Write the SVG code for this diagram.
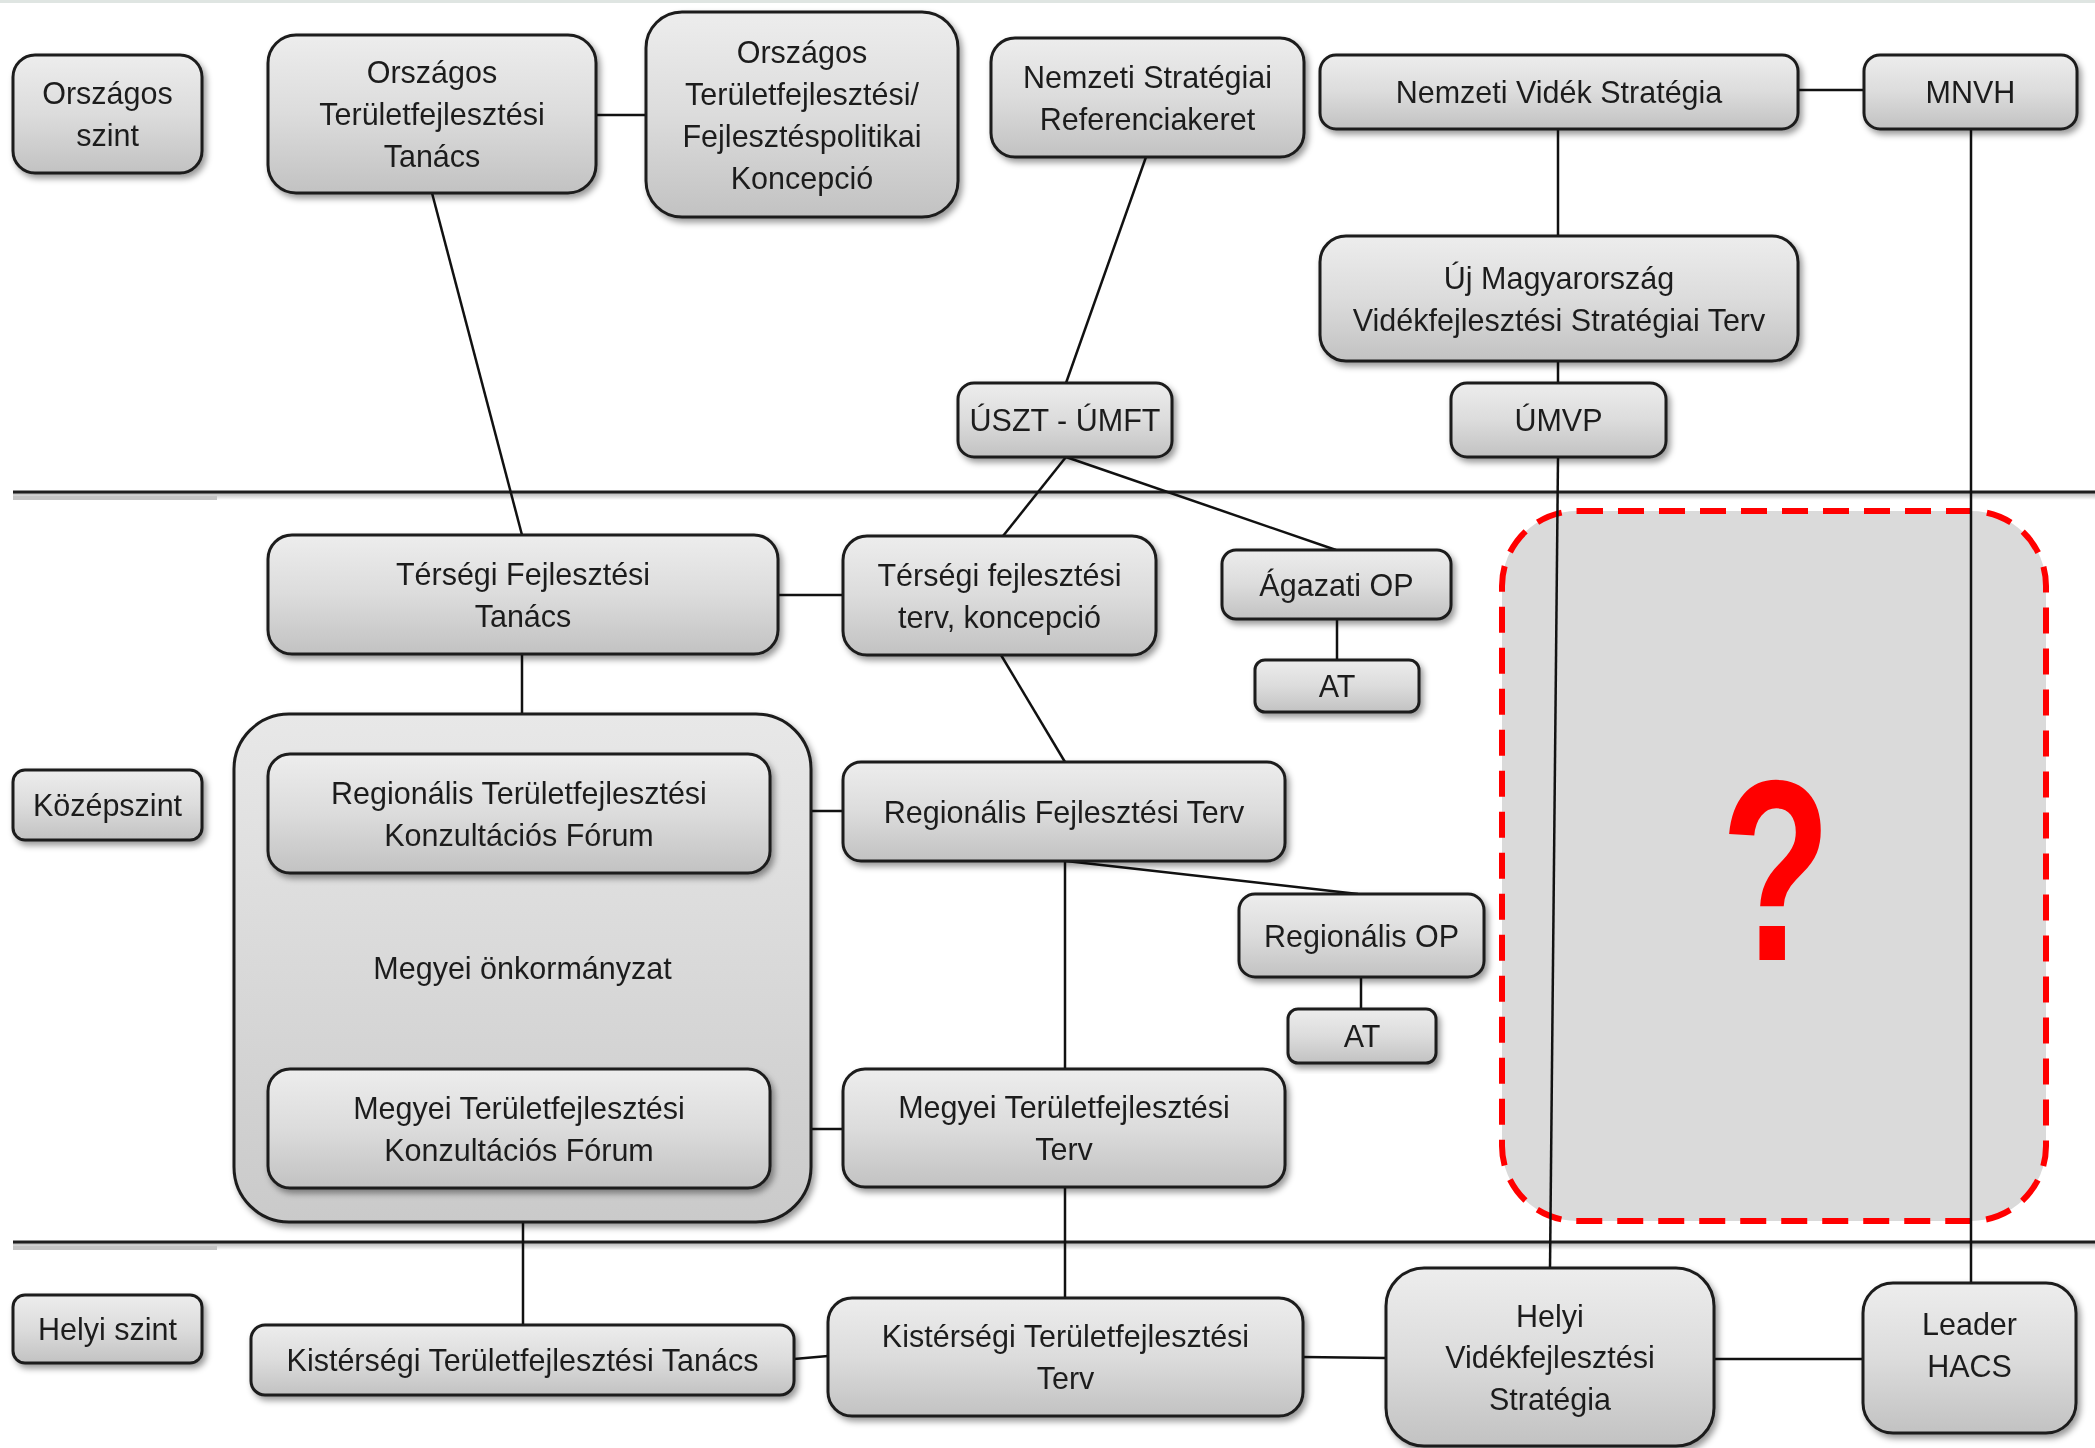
<svg xmlns="http://www.w3.org/2000/svg" width="2095" height="1448" viewBox="0 0 2095 1448">
<defs>
<linearGradient id="g" x1="0" y1="0" x2="0" y2="1">
<stop offset="0" stop-color="#ededed"/>
<stop offset="0.5" stop-color="#dcdcdc"/>
<stop offset="1" stop-color="#c2c2c2"/>
</linearGradient>
<linearGradient id="gc" x1="0" y1="0" x2="0" y2="1">
<stop offset="0" stop-color="#e8e8e8"/>
<stop offset="1" stop-color="#cacaca"/>
</linearGradient>
<linearGradient id="ls" x1="0" y1="0" x2="0" y2="1">
<stop offset="0" stop-color="#000" stop-opacity="0.28"/>
<stop offset="1" stop-color="#000" stop-opacity="0"/>
</linearGradient>
<filter id="sh" x="-10%" y="-10%" width="125%" height="130%">
<feDropShadow dx="3" dy="4" stdDeviation="3" flood-color="#000" flood-opacity="0.4"/>
</filter>
</defs>
<style>
.n rect{fill:url(#g);stroke:#1c1c1c;stroke-width:3;}
.n{filter:url(#sh);}
.t{font-family:"Liberation Sans",Arial,sans-serif;font-size:30.5px;fill:#1e1e1e;text-anchor:middle;}
.c line{stroke:#111;stroke-width:2.5;}
.sep{fill:#1e1e1e;}
.sepsh{fill:url(#ls);}
</style>
<rect x="0" y="0" width="2095" height="1448" fill="#ffffff"/>
<rect x="0" y="0" width="2095" height="3" fill="#dfe5e2"/>

<g id="separators">
<rect class="sepsh" x="13" y="493" width="2082" height="7"/>
<rect class="sepsh" x="13" y="1243" width="2082" height="7"/>
<rect x="13" y="496" width="204" height="4" fill="#c4c4c4"/>
<rect x="13" y="1246" width="204" height="4" fill="#c4c4c4"/>
<rect class="sep" x="13" y="490.5" width="2082" height="3"/>
<rect class="sep" x="13" y="1240.5" width="2082" height="3"/>
</g>

<g id="unknown">
<rect x="1502" y="511" width="544" height="710" rx="75" fill="#dadada" stroke="#ff0000" stroke-width="6" stroke-dasharray="26 15"/>
<text transform="translate(1776,960) scale(0.7,1)" x="0" y="0" font-family="Liberation Sans,Arial,sans-serif" font-weight="bold" font-size="258" fill="#ff0000" text-anchor="middle">?</text>
</g>

<g id="connectors" class="c">
<line x1="596" y1="115" x2="646" y2="115"/>
<line x1="432" y1="193" x2="522" y2="535"/>
<line x1="1146" y1="157" x2="1066" y2="383"/>
<line x1="1798" y1="90" x2="1864" y2="90"/>
<line x1="1558" y1="129" x2="1558" y2="236"/>
<line x1="1558" y1="361" x2="1558" y2="383"/>
<line x1="1558" y1="457" x2="1550" y2="1268"/>
<line x1="1971" y1="129" x2="1971" y2="1283"/>
<line x1="1066" y1="457" x2="1003" y2="536"/>
<line x1="1066" y1="457" x2="1336" y2="550"/>
<line x1="1337" y1="619" x2="1337" y2="660"/>
<line x1="778" y1="595" x2="843" y2="595"/>
<line x1="522" y1="654" x2="522" y2="714"/>
<line x1="1001" y1="655" x2="1065" y2="762"/>
<line x1="770" y1="811" x2="843" y2="811"/>
<line x1="1066" y1="861" x2="1358" y2="894"/>
<line x1="1361" y1="977" x2="1361" y2="1009"/>
<line x1="1065" y1="861" x2="1065" y2="1069"/>
<line x1="770" y1="1129" x2="843" y2="1129"/>
<line x1="523" y1="1222" x2="523" y2="1325"/>
<line x1="1065" y1="1187" x2="1065" y2="1298"/>
<line x1="794" y1="1359" x2="828" y2="1356"/>
<line x1="1303" y1="1357" x2="1386" y2="1358"/>
<line x1="1714" y1="1359" x2="1863" y2="1359"/>
</g>

<g id="orszagos-szint" class="n"><rect x="13" y="55" width="189" height="118" rx="22"/>
<text class="t" x="107.5" y="104">Országos</text><text class="t" x="107.5" y="146">szint</text></g>

<g id="ott" class="n"><rect x="268" y="35" width="328" height="158" rx="28"/>
<text class="t" x="432" y="83">Országos</text><text class="t" x="432" y="125">Területfejlesztési</text><text class="t" x="432" y="167">Tanács</text></g>

<g id="koncepcio" class="n"><rect x="646" y="12" width="312" height="205" rx="36"/>
<text class="t" x="802" y="62.5">Országos</text><text class="t" x="802" y="104.5">Területfejlesztési/</text><text class="t" x="802" y="146.5">Fejlesztéspolitikai</text><text class="t" x="802" y="188.5">Koncepció</text></g>

<g id="nsrk" class="n"><rect x="991" y="38" width="313" height="119" rx="24"/>
<text class="t" x="1147.5" y="87.5">Nemzeti Stratégiai</text><text class="t" x="1147.5" y="129.5">Referenciakeret</text></g>

<g id="uszt-umft" class="n"><rect x="958" y="383" width="214" height="74" rx="16"/>
<text class="t" x="1065" y="431">ÚSZT - ÚMFT</text></g>

<g id="nvs" class="n"><rect x="1320" y="55" width="478" height="74" rx="16"/>
<text class="t" x="1559" y="103">Nemzeti Vidék Stratégia</text></g>

<g id="mnvh" class="n"><rect x="1864" y="55" width="213" height="74" rx="16"/>
<text class="t" x="1970.5" y="103">MNVH</text></g>

<g id="ujmo" class="n"><rect x="1320" y="236" width="478" height="125" rx="26"/>
<text class="t" x="1559" y="289">Új Magyarország</text><text class="t" x="1559" y="331">Vidékfejlesztési Stratégiai Terv</text></g>

<g id="umvp" class="n"><rect x="1451" y="383" width="215" height="74" rx="16"/>
<text class="t" x="1558.5" y="431">ÚMVP</text></g>

<g id="kozepszint" class="n"><rect x="13" y="770" width="189" height="70" rx="12"/>
<text class="t" x="107.5" y="816">Középszint</text></g>

<g id="tft" class="n"><rect x="268" y="535" width="510" height="119" rx="24"/>
<text class="t" x="523" y="584.5">Térségi Fejlesztési</text><text class="t" x="523" y="626.5">Tanács</text></g>

<g id="tfterv" class="n"><rect x="843" y="536" width="313" height="119" rx="24"/>
<text class="t" x="999.5" y="585.5">Térségi fejlesztési</text><text class="t" x="999.5" y="627.5">terv, koncepció</text></g>

<g id="agazati-op" class="n"><rect x="1222" y="550" width="229" height="69" rx="14"/>
<text class="t" x="1336.5" y="596">Ágazati OP</text></g>

<g id="at1" class="n"><rect x="1255" y="660" width="164" height="52" rx="10"/>
<text class="t" x="1337" y="697">AT</text></g>

<g id="megyei-onkormanyzat" class="n"><rect x="234" y="714" width="577" height="508" rx="55" style="fill:url(#gc)"/>
<text class="t" x="522.5" y="979">Megyei önkormányzat</text></g>

<g id="rtkf" class="n"><rect x="268" y="754" width="502" height="119" rx="22"/>
<text class="t" x="519" y="803.5">Regionális Területfejlesztési</text><text class="t" x="519" y="845.5">Konzultációs Fórum</text></g>

<g id="rft" class="n"><rect x="843" y="762" width="442" height="99" rx="18"/>
<text class="t" x="1064" y="822.5">Regionális Fejlesztési Terv</text></g>

<g id="regionalis-op" class="n"><rect x="1239" y="894" width="245" height="83" rx="16"/>
<text class="t" x="1361.5" y="946.5">Regionális OP</text></g>

<g id="at2" class="n"><rect x="1288" y="1009" width="148" height="54" rx="10"/>
<text class="t" x="1362" y="1047">AT</text></g>

<g id="mtkf" class="n"><rect x="268" y="1069" width="502" height="119" rx="22"/>
<text class="t" x="519" y="1118.5">Megyei Területfejlesztési</text><text class="t" x="519" y="1160.5">Konzultációs Fórum</text></g>

<g id="mtt" class="n"><rect x="843" y="1069" width="442" height="118" rx="22"/>
<text class="t" x="1064" y="1118">Megyei Területfejlesztési</text><text class="t" x="1064" y="1160">Terv</text></g>

<g id="helyi-szint" class="n"><rect x="13" y="1295" width="189" height="68" rx="12"/>
<text class="t" x="107.5" y="1340">Helyi szint</text></g>

<g id="ktt" class="n"><rect x="251" y="1325" width="543" height="70" rx="14"/>
<text class="t" x="522.5" y="1371">Kistérségi Területfejlesztési Tanács</text></g>

<g id="kttery" class="n"><rect x="828" y="1298" width="475" height="118" rx="24"/>
<text class="t" x="1065.5" y="1347">Kistérségi Területfejlesztési</text><text class="t" x="1065.5" y="1389">Terv</text></g>

<g id="hvs" class="n"><rect x="1386" y="1268" width="328" height="178" rx="38"/>
<text class="t" x="1550" y="1327">Helyi</text><text class="t" x="1550" y="1368">Vidékfejlesztési</text><text class="t" x="1550" y="1410">Stratégia</text></g>

<g id="leader-hacs" class="n"><rect x="1863" y="1283" width="213" height="150" rx="30"/>
<text class="t" x="1969.5" y="1335">Leader</text><text class="t" x="1969.5" y="1377">HACS</text></g>
</svg>
